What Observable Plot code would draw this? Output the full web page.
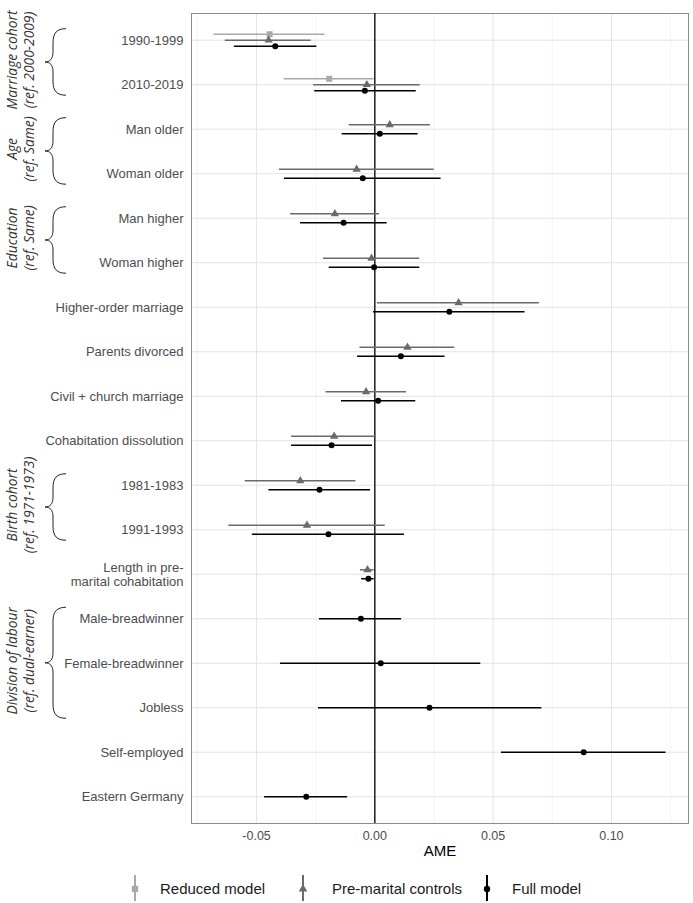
<!DOCTYPE html>
<html>
<head>
<meta charset="utf-8">
<script src="https://cdn.jsdelivr.net/npm/d3@7"></script>
<script src="https://cdn.jsdelivr.net/npm/@observablehq/plot@0.6"></script>
<style>
  html, body { margin: 0; padding: 0; background: #fff; }
  #wrap { width: 693px; font-family: "Liberation Sans", Arial, sans-serif; }
  #legend { position: relative; width: 693px; height: 33px; }
  #legend svg { position: absolute; }
  #legend span { position: absolute; font-size: 15px; line-height: 18px; color: #1a1a1a; white-space: nowrap; }
</style>
</head>
<body>
<div id="wrap"><div id="chart"></div><div id="legend"></div></div>
<script>
// ---- data ----
const rows = ["1990-1999", "2010-2019", "Man older", "Woman older", "Man higher", "Woman higher",
  "Higher-order marriage", "Parents divorced", "Civil + church marriage", "Cohabitation dissolution",
  "1981-1983", "1991-1993", "Length in pre-\nmarital cohabitation", "Male-breadwinner",
  "Female-breadwinner", "Jobless", "Self-employed", "Eastern Germany"];
const models = ["Reduced model", "Pre-marital controls", "Full model"];
const modelColors = ["#a9a9a9", "#6a6a6a", "#000000"];
const modelSymbols = ["square", "triangle", "circle"];

const reducedEst = [-0.0445, -0.0193, null, null, null, null, null, null, null, null, null, null, null, null, null, null, null, null];
const reducedLo  = [-0.0680, -0.0383, null, null, null, null, null, null, null, null, null, null, null, null, null, null, null, null];
const reducedHi  = [-0.0211, -0.0003, null, null, null, null, null, null, null, null, null, null, null, null, null, null, null, null];

const preEst = [-0.0449, -0.0034, 0.0063, -0.0077, -0.0169, -0.0014, 0.0354, 0.0138, -0.0037, -0.0172, -0.0315, -0.0287, -0.0031, null, null, null, null, null];
const preLo  = [-0.0632, -0.0259, -0.0108, -0.0403, -0.0356, -0.0217, 0.0011, -0.0063, -0.0206, -0.0352, -0.0548, -0.0617, -0.0061, null, null, null, null, null];
const preHi  = [-0.0269, 0.0192, 0.0235, 0.0251, 0.0020, 0.0190, 0.0696, 0.0338, 0.0134, 0.0006, -0.0080, 0.0044, -0.0003, null, null, null, null, null];

const fullEst = [-0.0421, -0.0042, 0.0021, -0.0051, -0.0132, -0.0003, 0.0315, 0.0110, 0.0014, -0.0183, -0.0234, -0.0196, -0.0027, -0.0059, 0.0025, 0.0231, 0.0883, -0.0290];
const fullLo  = [-0.0594, -0.0254, -0.0138, -0.0382, -0.0314, -0.0193, -0.0006, -0.0073, -0.0141, -0.0352, -0.0448, -0.0518, -0.0056, -0.0234, -0.0399, -0.0238, 0.0535, -0.0466];
const fullHi  = [-0.0245, 0.0175, 0.0183, 0.0280, 0.0052, 0.0190, 0.0635, 0.0297, 0.0173, -0.0010, -0.0018, 0.0125, -0.0003, 0.0113, 0.0448, 0.0706, 0.1231, -0.0115];

const groupNames = ["Marriage cohort", "Age", "Education", "Birth cohort", "Division of labour"];
const groupRefs = ["(ref. 2000-2009)", "(ref. Same)", "(ref. Same)", "(ref. 1971-1973)", "(ref. dual-earner)"];
const groupFirst = [0, 2, 4, 10, 13];
const groupLast = [1, 3, 5, 11, 15];

const xTicks = [-0.05, 0, 0.05, 0.10];
const xMinor = [-0.075, -0.025, 0.025, 0.075, 0.125];

// ---- build tidy table with dodge ----
const sets = [[reducedEst, reducedLo, reducedHi], [preEst, preLo, preHi], [fullEst, fullLo, fullHi]];
const data = [];
rows.forEach((r, i) => {
  const present = [0, 1, 2].filter(k => sets[k][0][i] != null);
  const n = present.length;
  present.forEach((k, j) => {
    data.push({
      row: i, model: models[k],
      est: sets[k][0][i], lo: sets[k][1][i], hi: sets[k][2][i],
      pos: i + (j - (n - 1) / 2) * 0.4 / n
    });
  });
});

const W = 693, H = 870;
const plot = Plot.plot({
  width: W, height: H,
  marginLeft: 191, marginRight: 5, marginTop: 13, marginBottom: 47,
  style: { fontFamily: "Liberation Sans, Arial, sans-serif", color: "#4d4d4d", background: "white" },
  x: { domain: [-0.0775, 0.1326] },
  y: { domain: [-0.6, rows.length - 0.4], reverse: true },
  color: { domain: models, range: modelColors },
  symbol: { domain: models, range: modelSymbols },
  marks: [
    Plot.ruleX(xMinor, { stroke: "#ededed", strokeWidth: 0.6 }),
    Plot.ruleX(xTicks, { stroke: "#e3e3e3", strokeWidth: 1 }),
    Plot.ruleY(d3.range(rows.length), { stroke: "#e3e3e3", strokeWidth: 1 }),
    Plot.frame({ stroke: "#8c8c8c", strokeWidth: 1 }),
    Plot.axisX({ ticks: xTicks, tickFormat: d => d.toFixed(2), tickSize: 0, tickPadding: 8, fontSize: 12.5, label: null }),
    Plot.axisY({ ticks: d3.range(rows.length), tickFormat: i => rows[i], tickSize: 0, tickPadding: 8, fontSize: 13, label: null, lineHeight: 1.1 }),
    Plot.text(["AME"], { frameAnchor: "bottom", dy: 32, fontSize: 15, fill: "black" }),
    Plot.ruleX([0], { stroke: "black", strokeWidth: 1.3 }),
    Plot.ruleY(data, { y: "pos", x1: "lo", x2: "hi", stroke: "model", strokeWidth: 1.5 }),
    Plot.dot(data.filter(d => d.model === models[0]), { x: "est", y: "pos", symbol: "model", fill: "model", r: 3.4 }),
    Plot.dot(data.filter(d => d.model === models[1]), { x: "est", y: "pos", symbol: "model", fill: "model", r: 3.1 }),
    Plot.dot(data.filter(d => d.model === models[2]), { x: "est", y: "pos", symbol: "model", fill: "model", r: 3 })
  ]
});
document.getElementById("chart").appendChild(plot);

// ---- group braces and labels (positioned via the plot's y scale) ----
const yS = plot.scale("y");
const svg = d3.select(plot);
const g = svg.append("g");
groupNames.forEach((name, gi) => {
  const t = yS.apply(groupFirst[gi]) - 11;
  const b = yS.apply(groupLast[gi]) + 11;
  const m = (t + b) / 2;
  const xe = 66, xs = 53, xt = 45;
  const p = `M${xe},${t} C${xs + 4},${t} ${xs},${t + 4} ${xs},${t + 14} L${xs},${m - 10} C${xs},${m - 3} ${xs - 3},${m} ${xt},${m} C${xs - 3},${m} ${xs},${m + 3} ${xs},${m + 10} L${xs},${b - 14} C${xs},${b - 4} ${xs + 4},${b} ${xe},${b}`;
  g.append("path").attr("d", p).attr("fill", "none").attr("stroke", "#222").attr("stroke-width", 1);
  [[name, 16.5], [groupRefs[gi], 34]].forEach(([txt, x]) => {
    g.append("text").attr("transform", `translate(${x},${m - 2}) rotate(-90)`)
      .attr("text-anchor", "middle")
      .attr("font-family", "Open Sans, sans-serif").attr("font-style", "italic")
      .attr("font-size", 13.8).attr("fill", "#333").text(txt);
  });
});

// ---- legend ----
const legend = d3.select("#legend");
const keyX = [135, 303, 487];
const textX = [160, 332, 512];
models.forEach((m, k) => {
  const s = legend.append("svg").attr("width", 14).attr("height", 28)
    .style("left", (keyX[k] - 7) + "px").style("top", "4px");
  s.append("line").attr("x1", 7).attr("x2", 7).attr("y1", 1).attr("y2", 27)
    .attr("stroke", modelColors[k]).attr("stroke-width", 2);
  const sym = d3.symbol(k === 0 ? d3.symbolSquare : k === 1 ? d3.symbolTriangle : d3.symbolCircle, k === 0 ? 40 : 32);
  s.append("path").attr("d", sym()).attr("transform", "translate(7,15)").attr("fill", modelColors[k]);
  legend.append("span").style("left", textX[k] + "px").style("top", "10px").text(m);
});
</script>
</body>
</html>
